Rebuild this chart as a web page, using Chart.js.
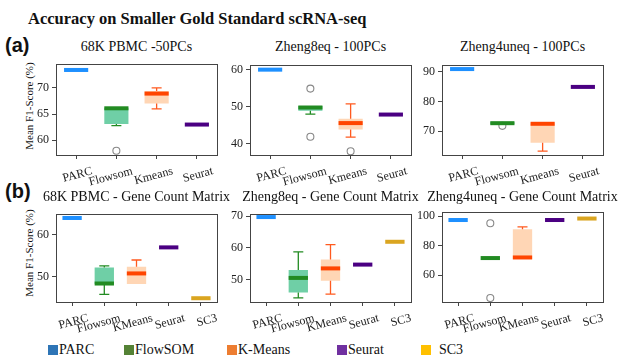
<!DOCTYPE html>
<html>
<head>
<meta charset="utf-8">
<script src="https://cdn.jsdelivr.net/npm/chart.js@4.4.0/dist/chart.umd.min.js"></script>
<style>
  body { margin: 0; width: 619px; height: 360px; background: #fff; position: relative; overflow: hidden;
         font-family: "Liberation Serif", "Times New Roman", serif; color: #111; }
  canvas { position: absolute; }
  .txt { position: absolute; white-space: nowrap; line-height: 16px; }
  .ptitle { font-size: 14px; transform: translateX(-50%); }
  .ylab { font-size: 11px; transform: translate(-50%, -50%) rotate(-90deg); }
  .tag { font-family: "Liberation Sans", Arial, sans-serif; font-weight: bold; font-size: 20px; line-height: 22px; }
  .leg { position: absolute; top: 342px; font-size: 14px; line-height: 16px; display: flex; align-items: center; }
  .leg i { display: inline-block; width: 10px; height: 10px; margin-right: 1px; }
</style>
</head>
<body>
<div class="txt" style="left:28px;top:11px;font-size:16.5px;font-weight:bold;">Accuracy on Smaller Gold Standard scRNA-seq</div>
<div class="txt tag" style="left:5px;top:34px;">(a)</div>
<div class="txt tag" style="left:5px;top:180px;">(b)</div>
<div class="txt ylab" style="left:29px;top:106px;">Mean F1-Score (%)</div>
<div class="txt ylab" style="left:29px;top:253px;">Mean F1-Score (%)</div>
<div id="legend"></div>

<script>
// --- categories ---
const catsA = ["PARC", "Flowsom", "Kmeans", "Seurat"];
const catsB = ["PARC", "Flowsom", "KMeans", "Seurat", "SC3"];

// --- (a) 68K PBMC -50PCs ---
const p1Min = [73.4, 62.8, 66.0, 63.0];
const p1Q1  = [73.4, 63.1, 67.0, 63.0];
const p1Med = [73.4, 66.1, 68.9, 63.0];
const p1Q3  = [73.4, 66.2, 69.4, 63.0];
const p1Max = [73.4, 66.2, 70.0, 63.0];
const p1Out = [[], [58.0], [], []];
const p1Ticks = [60, 65, 70];

// --- (a) Zheng8eq - 100PCs ---
const p2Min = [60.0, 48.0, 41.8, 47.9];
const p2Q1  = [60.0, 48.9, 43.9, 47.9];
const p2Med = [60.0, 49.8, 45.6, 47.9];
const p2Q3  = [60.0, 50.2, 46.8, 47.9];
const p2Max = [60.0, 50.2, 50.8, 47.9];
const p2Out = [[], [54.9, 41.9], [38.0], []];
const p2Ticks = [40, 50, 60];

// --- (a) Zheng4uneq - 100PCs ---
const p3Min = [90.9, 72.3, 63.3, 84.9];
const p3Q1  = [90.9, 72.3, 66.1, 84.9];
const p3Med = [90.9, 72.7, 72.5, 84.9];
const p3Q3  = [90.9, 73.0, 72.7, 84.9];
const p3Max = [90.9, 73.0, 72.7, 84.9];
const p3Out = [[], [71.8], [], []];
const p3Ticks = [70, 80, 90];

// --- (b) 68K PBMC - Gene Count Matrix ---
const p4Min = [64.0, 45.8, 48.3, 57.0, 44.9];
const p4Q1  = [64.0, 48.3, 48.3, 57.0, 44.9];
const p4Med = [64.0, 48.4, 50.8, 57.0, 44.9];
const p4Q3  = [64.0, 52.2, 52.4, 57.0, 44.9];
const p4Max = [64.0, 52.6, 54.0, 57.0, 44.9];
const p4Out = [[], [], [], [], []];
const p4Ticks = [50, 60];

// --- (b) Zheng8eq - Gene Count Matrix ---
const p5Min = [69.7, 44.2, 45.4, 54.7, 61.9];
const p5Q1  = [69.7, 45.9, 49.6, 54.7, 61.9];
const p5Med = [69.7, 50.5, 53.5, 54.7, 61.9];
const p5Q3  = [69.7, 53.0, 56.3, 54.7, 61.9];
const p5Max = [69.7, 58.7, 61.0, 54.7, 61.9];
const p5Out = [[], [], [], [], []];
const p5Ticks = [50, 60, 70];

// --- (b) Zheng4uneq - Gene Count Matrix ---
const p6Min = [97.3, 71.5, 71.0, 97.3, 98.3];
const p6Q1  = [97.3, 71.5, 71.0, 97.3, 98.3];
const p6Med = [97.3, 71.5, 71.9, 97.3, 98.3];
const p6Q3  = [97.3, 71.5, 91.1, 97.3, 98.3];
const p6Max = [97.3, 71.5, 92.6, 97.3, 98.3];
const p6Out = [[], [95.1, 44.4], [], [], []];
const p6Ticks = [60, 80, 100];

const legendNames = ["PARC", "FlowSOM", "K-Means", "Seurat", "SC3"];
const legendColors = ["#2e75b6", "#548235", "#ed7d31", "#7030a0", "#ffc000"];

// styles per method (same order as catsB)
const medianColors = ["#1e90ff", "#228b22", "#ff4500", "#4b0082", "#daa520"];
const boxColors = ["#1e90ff", "#6fcfa6", "#ffd6b5", "#4b0082", "#daa520"];
const whiskerColors = ["#1e90ff", "#228b22", "#ff5a1f", "#4b0082", "#daa520"];

const YW = 42, XH = 40, PT = 2, PR = 3;
const tickFont = { family: "Liberation Serif", size: 12 };

// box whiskers, caps and medians, drawn right after the box bars
const boxParts = {
  id: "boxParts",
  afterDatasetDraw(chart, args, opts) {
    if (args.index !== 0) return;
    const x = chart.scales.x, y = chart.scales.y, ctx = chart.ctx;
    const slot = x.getPixelForValue(1) - x.getPixelForValue(0);
    const bw = slot * 0.6, cap = 5;
    ctx.save();
    opts.med.forEach((m, i) => {
      const cx = x.getPixelForValue(i);
      ctx.strokeStyle = whiskerColors[i];
      ctx.lineWidth = 1.3;
      const segs = [[opts.q1[i], opts.min[i]], [opts.q3[i], opts.max[i]]];
      segs.forEach(([from, to]) => {
        if (Math.abs(from - to) < 0.01) return;
        const y1 = y.getPixelForValue(from), y2 = y.getPixelForValue(to);
        ctx.beginPath();
        ctx.moveTo(cx, y1); ctx.lineTo(cx, y2);
        ctx.moveTo(cx - cap, y2); ctx.lineTo(cx + cap, y2);
        ctx.stroke();
      });
      ctx.fillStyle = medianColors[i];
      ctx.fillRect(cx - bw / 2, y.getPixelForValue(m) - 2, bw, 4);
    });
    ctx.restore();
  },
  afterDraw(chart) {
    const a = chart.chartArea, ctx = chart.ctx;
    ctx.save();
    ctx.strokeStyle = "#444";
    ctx.lineWidth = 1;
    ctx.strokeRect(Math.round(a.left) + 0.5, Math.round(a.top) + 0.5, Math.round(a.right - a.left), Math.round(a.bottom - a.top));
    ctx.restore();
  }
};

const panels = [
  { title: "68K PBMC -50PCs", cats: catsA, min: p1Min, q1: p1Q1, med: p1Med, q3: p1Q3, max: p1Max, out: p1Out, ticks: p1Ticks, yMin: 57.2, yMax: 74.5, L: 56, R: 217, T: 56, B: 155 },
  { title: "Zheng8eq - 100PCs", cats: catsA, min: p2Min, q1: p2Q1, med: p2Med, q3: p2Q3, max: p2Max, out: p2Out, ticks: p2Ticks, yMin: 37.0, yMax: 61.2, L: 250, R: 411, T: 57, B: 155 },
  { title: "Zheng4uneq - 100PCs", cats: catsA, min: p3Min, q1: p3Q1, med: p3Med, q3: p3Q3, max: p3Max, out: p3Out, ticks: p3Ticks, yMin: 62.0, yMax: 92.2, L: 442, R: 603, T: 57, B: 155 },
  { title: "68K PBMC - Gene Count Matrix", cats: catsB, min: p4Min, q1: p4Q1, med: p4Med, q3: p4Q3, max: p4Max, out: p4Out, ticks: p4Ticks, yMin: 44.0, yMax: 64.9, L: 56, R: 217, T: 206, B: 302 },
  { title: "Zheng8eq - Gene Count Matrix", cats: catsB, min: p5Min, q1: p5Q1, med: p5Med, q3: p5Q3, max: p5Max, out: p5Out, ticks: p5Ticks, yMin: 42.9, yMax: 70.6, L: 250, R: 411, T: 206, B: 302 },
  { title: "Zheng4uneq - Gene Count Matrix", cats: catsB, min: p6Min, q1: p6Q1, med: p6Med, q3: p6Q3, max: p6Max, out: p6Out, ticks: p6Ticks, yMin: 41.7, yMax: 102.6, L: 442, R: 603, T: 204, B: 302 }
];

function makePanel(p) {
  const t = document.createElement("div");
  t.className = "txt ptitle";
  t.style.left = ((p.L + p.R) / 2) + "px";
  t.style.top = (p.T < 100 ? 39 : 189) + "px";
  t.textContent = p.title;
  document.body.appendChild(t);

  const cv = document.createElement("canvas");
  const w = (p.R - p.L) + YW + PR, h = (p.B - p.T) + PT + XH;
  cv.width = w; cv.height = h;
  cv.style.left = (p.L - YW) + "px";
  cv.style.top = (p.T - PT) + "px";
  cv.style.width = w + "px"; cv.style.height = h + "px";
  document.body.appendChild(cv);

  const outliers = [];
  p.out.forEach((arr, i) => arr.forEach(v => outliers.push({ x: p.cats[i], y: v })));

  new Chart(cv.getContext("2d"), {
    type: "bar",
    data: {
      labels: p.cats,
      datasets: [{
        data: p.q1.map((v, i) => [v, p.q3[i]]),
        backgroundColor: boxColors,
        borderWidth: 0,
        barPercentage: 0.6,
        categoryPercentage: 1
      }, {
        type: "scatter",
        data: outliers,
        pointStyle: "circle",
        pointRadius: 3.5,
        pointBackgroundColor: "rgba(255,255,255,0)",
        pointBorderColor: "#888",
        pointBorderWidth: 1.1
      }]
    },
    options: {
      responsive: false,
      animation: false,
      layout: { padding: { top: PT, right: PR, left: 0, bottom: 0 }, autoPadding: false },
      plugins: {
        legend: { display: false },
        tooltip: { enabled: false },
        boxParts: { min: p.min, q1: p.q1, med: p.med, q3: p.q3, max: p.max }
      },
      scales: {
        x: {
          type: "category",
          offset: true,
          afterFit: s => { s.height = XH; },
          grid: { offset: false, drawOnChartArea: false, drawTicks: true, tickLength: 4, color: "#444" },
          border: { display: false },
          ticks: { font: tickFont, color: "#222", minRotation: 15, maxRotation: 15, labelOffset: 16, padding: 5, autoSkip: false }
        },
        y: {
          type: "linear",
          min: p.yMin,
          max: p.yMax,
          afterBuildTicks: s => { s.ticks = p.ticks.map(v => ({ value: v })); },
          afterFit: s => { s.width = YW; },
          grid: { drawOnChartArea: false, drawTicks: true, tickLength: 4, color: "#444" },
          border: { display: false },
          ticks: { font: tickFont, color: "#222", padding: 3 }
        }
      }
    },
    plugins: [boxParts]
  });
}

panels.forEach(makePanel);

// legend
const legX = [48, 124, 227, 337, 421];
const leg = document.getElementById("legend");
legendNames.forEach((name, i) => {
  const d = document.createElement("div");
  d.className = "leg";
  d.style.left = legX[i] + "px";
  d.innerHTML = `<i style="background:${legendColors[i]}"></i>${i === 4 ? "&nbsp;&nbsp;" : ""}${name}`;
  leg.appendChild(d);
});
</script>
</body>
</html>
